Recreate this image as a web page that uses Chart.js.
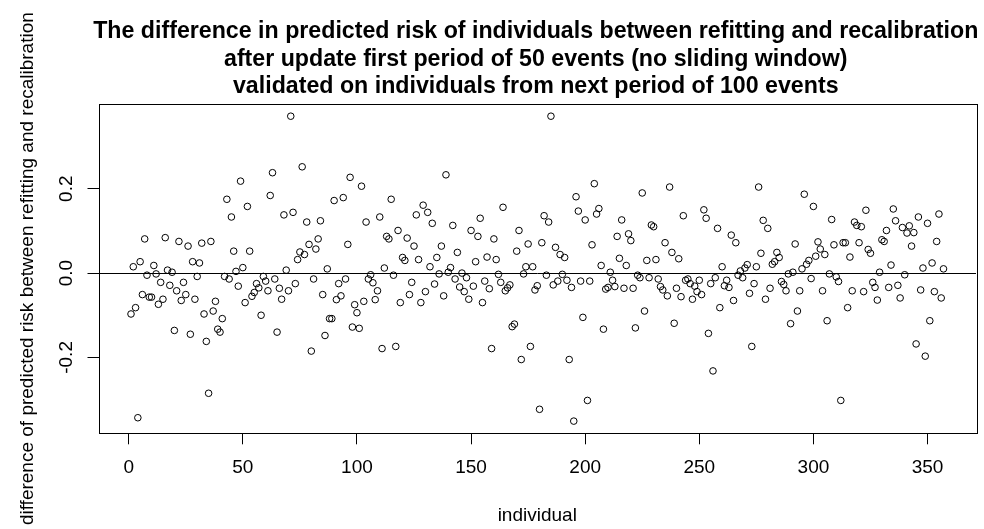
<!DOCTYPE html>
<html>
<head>
<meta charset="utf-8">
<script src="https://cdn.jsdelivr.net/npm/chart.js@4/dist/chart.umd.min.js"></script>
<style>
  html, body { margin: 0; padding: 0; background: #fff; }
  canvas { display: block; }
</style>
</head>
<body>
<canvas id="riskChart" width="984" height="529"></canvas>
<script>
// titles and axis text
const titleLines = [
    'The difference in predicted risk of individuals between refitting and recalibration',
    'after update first period of 50 events (no sliding window)',
    'validated on individuals from next period of 100 events'
];
const xAxisTitle = 'individual';
const yAxisTitle = 'difference of predicted risk between refitting and recalibration';

// tick positions and labels
const xTicks = [0, 50, 100, 150, 200, 250, 300, 350];
const yTicks = [-0.2, 0, 0.2];
const yTickLabels = ['-0.2', '0.0', '0.2'];

// difference in predicted risk per individual
const riskDiff = [
    -0.097, 0.015, -0.082, -0.343, 0.027, -0.051, 0.081, -0.005, -0.057, -0.057,
    0.018, -0.002, -0.074, -0.022, -0.062, 0.084, 0.007, -0.029, 0.002, -0.136,
    -0.042, 0.075, -0.065, -0.022, -0.051, 0.064, -0.145, 0.027, -0.062, -0.008,
    0.024, 0.071, -0.097, -0.162, -0.285, 0.075, -0.090, -0.067, -0.133, -0.140,
    -0.108, -0.008, 0.175, -0.014, 0.133, 0.052, 0.004, -0.031, 0.218, 0.013,
    -0.070, 0.158, 0.052, -0.055, -0.046, -0.025, -0.035, -0.100, -0.008, -0.019,
    -0.042, 0.184, 0.238, -0.014, -0.140, -0.036, -0.062, 0.138, 0.007, -0.042,
    0.372, 0.144, -0.025, 0.032, 0.050, 0.252, 0.044, 0.121, 0.068, -0.185,
    -0.014, 0.057, 0.081, 0.124, -0.051, -0.148, 0.010, -0.108, -0.108, 0.172,
    -0.063, -0.025, -0.054, 0.179, -0.014, 0.068, 0.227, -0.128, -0.075, -0.094,
    -0.131, 0.206, -0.067, 0.121, -0.014, -0.004, -0.023, -0.063, -0.042, 0.133,
    -0.179, 0.012, 0.087, 0.081, 0.175, -0.005, -0.174, 0.101, -0.070, 0.037,
    0.030, 0.083, -0.051, -0.022, 0.064, 0.138, 0.032, -0.070, 0.161, -0.044,
    0.144, 0.015, 0.118, -0.026, 0.037, -0.002, 0.064, -0.054, 0.233, 0.002,
    0.013, 0.113, -0.014, 0.049, -0.033, 0.000, -0.044, -0.011, -0.062, 0.101,
    -0.031, 0.027, 0.087, 0.130, -0.070, -0.019, 0.038, -0.037, -0.179, 0.081,
    0.032, -0.003, -0.022, 0.156, -0.042, -0.035, -0.028, -0.127, -0.121, 0.052,
    0.101, -0.205, -0.002, 0.015, 0.069, -0.174, 0.015, -0.040, -0.030, -0.323,
    0.072, 0.136, -0.005, 0.121, 0.372, -0.028, 0.061, -0.019, 0.044, -0.003,
    0.037, -0.017, -0.205, -0.034, -0.351, 0.181, 0.147, -0.019, -0.105, 0.126,
    -0.302, -0.019, 0.067, 0.212, 0.140, 0.153, 0.018, -0.133, -0.038, -0.034,
    0.002, -0.017, -0.032, 0.087, 0.035, 0.126, -0.036, 0.018, 0.093, 0.077,
    -0.036, -0.130, -0.005, -0.011, 0.190, -0.090, 0.030, -0.011, 0.114, 0.110,
    0.032, -0.014, -0.032, -0.040, 0.072, -0.054, 0.204, 0.049, -0.119, -0.036,
    0.034, -0.056, 0.136, -0.017, -0.014, -0.025, -0.062, -0.031, -0.044, -0.017,
    -0.051, 0.150, 0.130, -0.143, -0.025, -0.232, -0.011, 0.106, -0.082, 0.015,
    -0.030, -0.017, -0.034, 0.090, -0.065, 0.072, -0.005, 0.005, -0.011, 0.012,
    0.020, -0.048, -0.174, -0.025, 0.015, 0.204, 0.047, 0.125, -0.062, 0.106,
    -0.036, 0.021, 0.027, 0.049, 0.037, -0.020, -0.027, -0.042, -0.002, -0.120,
    0.002, 0.069, -0.090, -0.042, 0.010, 0.187, 0.021, 0.030, -0.013, 0.158,
    0.040, 0.074, 0.057, -0.042, 0.044, -0.113, -0.002, 0.127, 0.067, -0.009,
    -0.020, -0.302, 0.072, 0.072, -0.082, 0.038, -0.042, 0.121, 0.113, 0.072,
    0.110, -0.044, 0.149, 0.056, 0.047, -0.022, -0.034, -0.064, 0.002, 0.079,
    0.075, 0.101, -0.034, 0.019, 0.152, 0.124, -0.029, -0.059, 0.108, -0.004,
    0.095, 0.112, 0.064, 0.096, -0.168, 0.133, -0.040, 0.012, -0.197, 0.118,
    -0.113, 0.024, -0.044, 0.075, 0.140, -0.059, 0.010
];
// plot(y) in R uses the index as x
const individual = riskDiff.map((v, i) => i + 1);

// R style axis range: data range stretched by 4% each side
const n = individual.length;
const xMin = 1 - 0.04 * (n - 1);
const xMax = n + 0.04 * (n - 1);
const yLo = Math.min(...riskDiff);
const yHi = Math.max(...riskDiff);
const yMin = yLo - 0.04 * (yHi - yLo);
const yMax = yHi + 0.04 * (yHi - yLo);

const FONT = '"Liberation Sans", Arial, sans-serif';
Chart.defaults.font.family = FONT;
Chart.defaults.color = '#000';

// box, title, rotated y labels like base R graphics
const rFrame = {
    id: 'rFrame',
    afterDraw(chart) {
        const ctx = chart.ctx;
        const a = chart.chartArea;
        const yScale = chart.scales.y;
        ctx.save();
        ctx.strokeStyle = '#000';
        ctx.lineWidth = 1;
        ctx.strokeRect(Math.round(a.left) + 0.5, Math.round(a.top) + 0.5,
            Math.round(a.right - a.left), Math.round(a.bottom - a.top));

        ctx.fillStyle = '#000';
        ctx.textAlign = 'center';
        ctx.textBaseline = 'alphabetic';
        ctx.font = 'bold 23.2px ' + FONT;
        const cx = (a.left + a.right) / 2 - 1.5;
        titleLines.forEach((t, i) => ctx.fillText(t, cx, 38 + i * 27.7));

        ctx.font = '19px ' + FONT;
        yTicks.forEach((v, i) => {
            ctx.save();
            ctx.translate(72, yScale.getPixelForValue(v));
            ctx.rotate(-Math.PI / 2);
            ctx.fillText(yTickLabels[i], 0, 0);
            ctx.restore();
        });

        ctx.translate(33, (a.top + a.bottom) / 2);
        ctx.rotate(-Math.PI / 2);
        ctx.fillText(yAxisTitle, 0, 0);
        ctx.restore();
    }
};

const ctx = document.getElementById('riskChart').getContext('2d');
const myChart = new Chart(ctx, {
    type: 'scatter',
    data: {
        datasets: [{
            data: individual.map((x, i) => ({ x: x, y: riskDiff[i] })),
            pointStyle: 'circle',
            pointRadius: 3.3,
            pointHoverRadius: 3.3,
            pointBorderWidth: 1,
            pointBorderColor: '#000',
            pointBackgroundColor: 'rgba(0,0,0,0)',
            showLine: false
        }]
    },
    options: {
        responsive: false,
        animation: false,
        layout: { padding: { top: 104, right: 8, left: 0, bottom: 0 } },
        plugins: {
            legend: { display: false },
            tooltip: { enabled: false },
            title: { display: false }
        },
        scales: {
            x: {
                type: 'linear',
                min: xMin,
                max: xMax,
                afterBuildTicks: (scale) => { scale.ticks = xTicks.map(v => ({ value: v })); },
                afterFit: (scale) => { scale.height = 95.7; },
                border: { display: false },
                grid: {
                    drawOnChartArea: false,
                    drawTicks: true,
                    tickLength: 11,
                    tickColor: '#000',
                    tickWidth: 1
                },
                ticks: {
                    autoSkip: false,
                    maxRotation: 0,
                    padding: 12,
                    font: { size: 19 },
                    callback: (v) => String(v)
                },
                title: {
                    display: true,
                    text: xAxisTitle,
                    font: { size: 19 },
                    padding: { top: 0, bottom: 1.6 }
                }
            },
            y: {
                type: 'linear',
                min: yMin,
                max: yMax,
                afterBuildTicks: (scale) => { scale.ticks = yTicks.map(v => ({ value: v })); },
                afterFit: (scale) => { scale.width = 98.5; },
                border: { display: false },
                grid: {
                    color: (c) => (c.tick && c.tick.value === 0 ? '#000' : 'rgba(0,0,0,0)'),
                    lineWidth: 1,
                    drawTicks: true,
                    tickLength: 11,
                    tickColor: '#000',
                    tickWidth: 1
                },
                ticks: { display: false }
            }
        }
    },
    plugins: [rFrame]
});
</script>
</body>
</html>
